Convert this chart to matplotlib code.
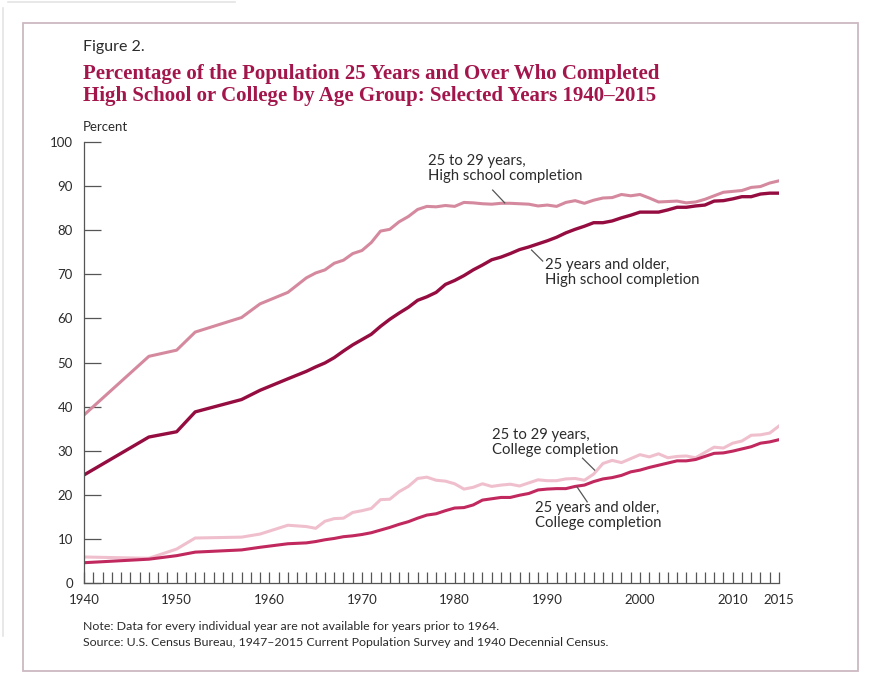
import numpy as np
import matplotlib
matplotlib.use("Agg")
import matplotlib.pyplot as plt
from matplotlib.lines import Line2D
from matplotlib.patches import Rectangle

# Data (percent)
years = [1940, 1947, 1950, 1952, 1957, 1959, 1962, 1964] + list(range(1965, 2016))

hs_2529 = [38.1, 51.4, 52.8, 56.9, 60.2, 63.3, 65.9, 69.2,
           70.3, 71.0, 72.5, 73.2, 74.7, 75.4, 77.2, 79.8, 80.2, 81.9,
           83.1, 84.7, 85.4, 85.3, 85.6, 85.4, 86.3, 86.2, 86.0, 85.9,
           86.1, 86.1, 86.0, 85.9, 85.5, 85.7, 85.4, 86.3, 86.7, 86.1,
           86.8, 87.3, 87.4, 88.1, 87.8, 88.1, 87.3, 86.4, 86.5, 86.6,
           86.2, 86.4, 87.0, 87.8, 88.6, 88.8, 89.0, 89.7, 89.9, 90.7, 91.2]

hs_25up = [24.5, 33.1, 34.3, 38.8, 41.6, 43.7, 46.3, 48.0,
           49.0, 49.9, 51.1, 52.6, 54.0, 55.2, 56.4, 58.2, 59.8, 61.2,
           62.5, 64.1, 64.9, 65.9, 67.7, 68.6, 69.7, 71.0, 72.1, 73.3,
           73.9, 74.7, 75.6, 76.2, 76.9, 77.6, 78.4, 79.4, 80.2, 80.9,
           81.7, 81.7, 82.1, 82.8, 83.4, 84.1, 84.1, 84.1, 84.6, 85.2,
           85.2, 85.5, 85.7, 86.6, 86.7, 87.1, 87.6, 87.6, 88.2, 88.4, 88.4]

col_2529 = [5.9, 5.6, 7.7, 10.2, 10.4, 11.1, 13.1, 12.8,
            12.4, 14.0, 14.6, 14.7, 16.0, 16.4, 16.9, 18.9, 19.0, 20.7,
            21.9, 23.7, 24.0, 23.3, 23.1, 22.5, 21.3, 21.7, 22.5, 21.9,
            22.2, 22.4, 22.0, 22.7, 23.4, 23.2, 23.2, 23.6, 23.7, 23.3,
            24.7, 27.1, 27.8, 27.3, 28.2, 29.1, 28.6, 29.3, 28.4, 28.7,
            28.8, 28.4, 29.6, 30.8, 30.6, 31.7, 32.2, 33.5, 33.6, 34.0, 35.6]

col_25up = [4.6, 5.4, 6.2, 7.0, 7.5, 8.1, 8.9, 9.1,
            9.4, 9.8, 10.1, 10.5, 10.7, 11.0, 11.4, 12.0, 12.6, 13.3,
            13.9, 14.7, 15.4, 15.7, 16.4, 17.0, 17.1, 17.7, 18.8, 19.1,
            19.4, 19.4, 19.9, 20.3, 21.1, 21.3, 21.4, 21.4, 21.9, 22.2,
            23.0, 23.6, 23.9, 24.4, 25.2, 25.6, 26.2, 26.7, 27.2, 27.7,
            27.7, 28.0, 28.7, 29.4, 29.5, 29.9, 30.4, 30.9, 31.7, 32.0, 32.5]

year_labels = [1940, 1950, 1960, 1970, 1980, 1990, 2000, 2010, 2015]
y_ticks = list(range(0, 101, 10))

W, H = 880, 684
def fx(px):
    return px / W
def fy(py):
    return 1 - py / H

sans = "Lato"
text_c = "#2b2b2b"
title_c = "#a3164c"

fig = plt.figure(figsize=(8.8, 6.84), dpi=100)
fig.patch.set_facecolor("white")

# outer frame and screenshot edge
fig.add_artist(Rectangle((fx(23), fy(671)), fx(858) - fx(23), fy(23) - fy(671),
                         transform=fig.transFigure, fill=False,
                         edgecolor="#cdb9c1", linewidth=1.3))
fig.add_artist(Line2D([fx(3), fx(3)], [fy(8), fy(636)], transform=fig.transFigure,
                      color="#e4e4e4", linewidth=1.2))
fig.add_artist(Line2D([fx(8), fx(235)], [fy(2), fy(2)], transform=fig.transFigure,
                      color="#e4e4e4", linewidth=1.2))

ax = fig.add_axes([fx(84), fy(583), fx(779) - fx(84), fy(142) - fy(583)])

ax.plot(years, hs_2529, color="#d5899f", linewidth=2.2, solid_joinstyle="round")
ax.plot(years, hs_25up, color="#950c40", linewidth=2.4, solid_joinstyle="round")
ax.plot(years, col_2529, color="#f0bfcd", linewidth=2.2, solid_joinstyle="round")
ax.plot(years, col_25up, color="#c0285e", linewidth=2.2, solid_joinstyle="round")

ax.set_xlim(1940, 2015)
ax.set_ylim(0, 100)
for s in ["top", "right"]:
    ax.spines[s].set_visible(False)
for s in ["left", "bottom"]:
    ax.spines[s].set_color("#555555")
    ax.spines[s].set_linewidth(0.9)

ax.set_yticks(y_ticks)
ax.set_yticklabels([str(v) for v in y_ticks], fontfamily=sans, fontsize=9.5, color=text_c)
ax.tick_params(axis="y", direction="in", length=12, width=0.9, color="#555555", pad=8)

ax.set_xticks(year_labels)
ax.set_xticklabels([str(v) for v in year_labels], fontfamily=sans, fontsize=9.5, color=text_c)
ax.set_xticks(range(1940, 2016), minor=True)
ax.tick_params(axis="x", which="both", direction="in", length=8, width=0.9,
               color="#555555", pad=8)

# annotations
ann = dict(fontfamily=sans, fontsize=10.7, color=text_c, va="top", ha="left",
           linespacing=1.12)
fig.text(fx(428), fy(154), "25 to 29 years,\nHigh school completion", **ann)
fig.text(fx(545), fy(258), "25 years and older,\nHigh school completion", **ann)
fig.text(fx(492), fy(428), "25 to 29 years,\nCollege completion", **ann)
fig.text(fx(535), fy(501), "25 years and older,\nCollege completion", **ann)

lead = dict(color="#555555", linewidth=0.9)
ax.plot([1984.1, 1985.4], [89.1, 86.2], **lead)
ax.plot([1988.3, 1989.5], [75.5, 73.0], **lead)
ax.plot([1993.8, 1995.1], [28.3, 25.6], **lead)
ax.plot([1993.2, 1994.3], [21.8, 18.4], **lead)

# titles
fig.text(fx(83), fy(47), "Figure 2.", fontfamily=sans, fontsize=11.5,
         color=text_c, va="center", ha="left")
fig.text(fx(83), fy(74), "Percentage of the Population 25 Years and Over Who Completed",
         fontfamily="Liberation Serif", fontweight="bold", fontsize=15,
         color=title_c, va="center", ha="left")
fig.text(fx(83), fy(96), "High School or College by Age Group: Selected Years 1940\u20132015",
         fontfamily="Liberation Serif", fontweight="bold", fontsize=15,
         color=title_c, va="center", ha="left")
fig.text(fx(83), fy(127), "Percent", fontfamily=sans, fontsize=9.5,
         color=text_c, va="center", ha="left")

# notes
fig.text(fx(83), fy(627), "Note: Data for every individual year are not available for years prior to 1964.",
         fontfamily=sans, fontsize=8.9, color=text_c, va="center", ha="left")
fig.text(fx(83), fy(642), "Source: U.S. Census Bureau, 1947\u20132015 Current Population Survey and 1940 Decennial Census.",
         fontfamily=sans, fontsize=8.9, color=text_c, va="center", ha="left")

fig.savefig("out.png", dpi=100, facecolor="white")
